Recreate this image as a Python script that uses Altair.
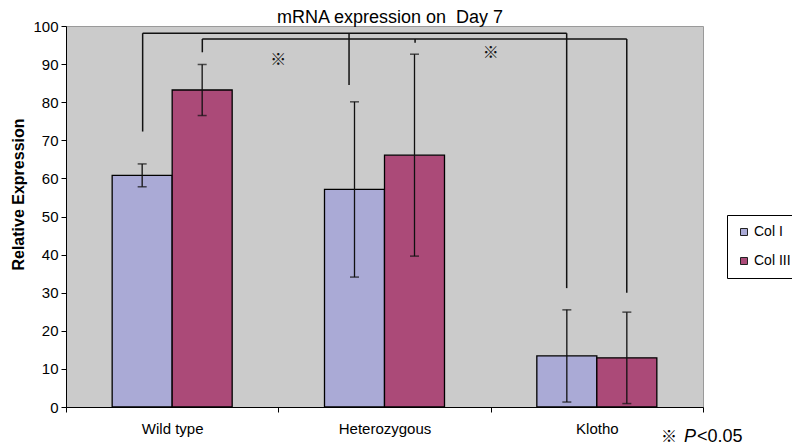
import altair as alt
import pandas as pd

# ---------------- data ----------------
groups = ["Wild type", "Heterozygous", "Klotho"]
series = ["Col I", "Col III"]
col1_mean = [60.8, 57.1, 13.4]
col1_err = [3.0, 23.0, 12.1]
col3_mean = [83.2, 66.1, 12.9]
col3_err = [6.7, 26.5, 12.0]
y_ticks = list(range(0, 101, 10))
colors = ["#aaaad6", "#ab4a78"]

# significance brackets (x in category units: 0..3 across the axis)
bracket_x1 = [0.361, 0.642]
bracket_x2 = [2.358, 2.641]
bracket_y = [98.1, 96.6]
leg_x = [0.361, 1.333, 2.358, 0.642, 1.644, 2.641]
leg_top = [98.1, 98.1, 98.1, 96.6, 96.6, 96.6]
leg_bottom = [72.3, 84.5, 31.2, 93.1, 95.6, 30.0]
star_x = [1.0, 2.0]
star_y = [91.1, 93.0]

title_text = "mRNA expression on \u00a0Day 7"

rows = []
for i, g in enumerate(groups):
    rows.append(dict(group=g, series="Col I", mean=col1_mean[i],
                     lo=col1_mean[i] - col1_err[i], hi=col1_mean[i] + col1_err[i]))
    rows.append(dict(group=g, series="Col III", mean=col3_mean[i],
                     lo=col3_mean[i] - col3_err[i], hi=col3_mean[i] + col3_err[i]))
df = pd.DataFrame(rows)

br_df = pd.DataFrame(dict(x1=bracket_x1, x2=bracket_x2, y=bracket_y))
leg_df = pd.DataFrame(dict(x=leg_x, top=leg_top, bottom=leg_bottom))
star_df = pd.DataFrame(dict(x=star_x, y=star_y, t=["\u203b"] * len(star_x)))

FONT = "Liberation Sans"
yscale = alt.Scale(domain=[0, 100], nice=False, zero=True)
y_axis = alt.Axis(values=y_ticks, title="Relative Expression", grid=False, labelOverlap=False,
                  tickSize=5, tickColor="black", domainColor="black",
                  labelFontSize=15, labelFont=FONT, labelColor="black",
                  labelPadding=3, titleFont=FONT, titleFontSize=16,
                  titleFontWeight="bold", titleColor="black",
                  titleX=-48, titleY=168, titleAlign="center",
                  titleBaseline="middle", titleAngle=270)

xband_scale = alt.Scale(domain=groups, paddingInner=0, paddingOuter=0)
x_axis = alt.Axis(title=None, labelAngle=0, tickBand="extent", tickSize=5,
                  tickColor="black", domainColor="black", labelFontSize=15,
                  labelFont=FONT, labelColor="black", labelPadding=9)
xoff_scale = alt.Scale(domain=series, paddingInner=0, paddingOuter=0.7694)


def xb():
    return alt.X("group:N", sort=groups, scale=xband_scale, axis=x_axis)


def xo():
    return alt.XOffset("series:N", sort=series, scale=xoff_scale)


bars = alt.Chart(df).mark_bar(stroke="black", strokeWidth=1.3).encode(
    x=xb(), xOffset=xo(),
    y=alt.Y("mean:Q", scale=yscale, axis=y_axis),
    color=alt.Color("series:N", sort=series,
                    scale=alt.Scale(domain=series, range=colors),
                    legend=alt.Legend(title=None, orient="none", legendX=661, legendY=189,
                                      strokeColor="black", fillColor="white", padding=10,
                                      symbolType="square", symbolSize=49,
                                      symbolStrokeColor="#222", symbolStrokeWidth=1,
                                      labelFontSize=14, labelFont=FONT, labelColor="black",
                                      rowPadding=15, labelOffset=3, cornerRadius=0)),
)

err = alt.Chart(df).mark_rule(color="#111", strokeWidth=1.3).encode(
    x=xb(), xOffset=xo(),
    y=alt.Y("lo:Q", scale=yscale, axis=y_axis), y2="hi:Q")
cap_hi = alt.Chart(df).mark_tick(color="#111", size=9, thickness=1.5, orient="horizontal").encode(
    x=xb(), xOffset=xo(),
    y=alt.Y("hi:Q", scale=yscale, axis=y_axis))
cap_lo = alt.Chart(df).mark_tick(color="#111", size=9, thickness=1.5, orient="horizontal").encode(
    x=xb(), xOffset=xo(),
    y=alt.Y("lo:Q", scale=yscale, axis=y_axis))

main = alt.layer(bars, err, cap_hi, cap_lo)

xq = alt.Scale(domain=[0, 3], nice=False, zero=False)
br = alt.Chart(br_df).mark_rule(color="#111", strokeWidth=1.5).encode(
    x=alt.X("x1:Q", scale=xq, axis=None), x2="x2:Q",
    y=alt.Y("y:Q", scale=yscale, axis=y_axis))
legs = alt.Chart(leg_df).mark_rule(color="#111", strokeWidth=1.5).encode(
    x=alt.X("x:Q", scale=xq, axis=None),
    y=alt.Y("top:Q", scale=yscale, axis=y_axis), y2="bottom:Q")
stars = alt.Chart(star_df).mark_text(font="Noto Sans CJK JP", fontSize=16, color="#111",
                                     baseline="middle").encode(
    x=alt.X("x:Q", scale=xq, axis=None), y=alt.Y("y:Q", scale=yscale, axis=y_axis), text="t:N")

annot = alt.layer(br, legs, stars)

title = alt.Chart(pd.DataFrame(dict(t=[title_text]))).mark_text(
    font=FONT, fontSize=18, color="black", baseline="middle", align="center").encode(
    x=alt.value(324), y=alt.value(-8), text="t:N")
fn1 = alt.Chart(pd.DataFrame(dict(t=["\u203b"]))).mark_text(
    font="Noto Sans CJK JP", fontSize=16, color="black", baseline="middle", align="left").encode(
    x=alt.value(595), y=alt.value(411), text="t:N")
fn2 = alt.Chart(pd.DataFrame(dict(t=["P"]))).mark_text(
    font=FONT, fontSize=18, fontStyle="italic", color="black", baseline="middle", align="left").encode(
    x=alt.value(618), y=alt.value(411), text="t:N")
fn3 = alt.Chart(pd.DataFrame(dict(t=["<0.05"]))).mark_text(
    font=FONT, fontSize=18, color="black", baseline="middle", align="left").encode(
    x=alt.value(631), y=alt.value(411), text="t:N")

chart = alt.layer(main, annot, title, fn1, fn2, fn3).resolve_scale(
    x="independent"
).properties(
    width=637, height=381,
    autosize=alt.AutoSizeParams(type="none"),
    padding={"left": 58, "top": 18, "right": 89, "bottom": 41},
    background="white",
).configure_view(fill="#cbcbcb", stroke="#9a9a9a", strokeWidth=1)

chart.save("out.html", embed_options={"renderer": "svg", "actions": False})
